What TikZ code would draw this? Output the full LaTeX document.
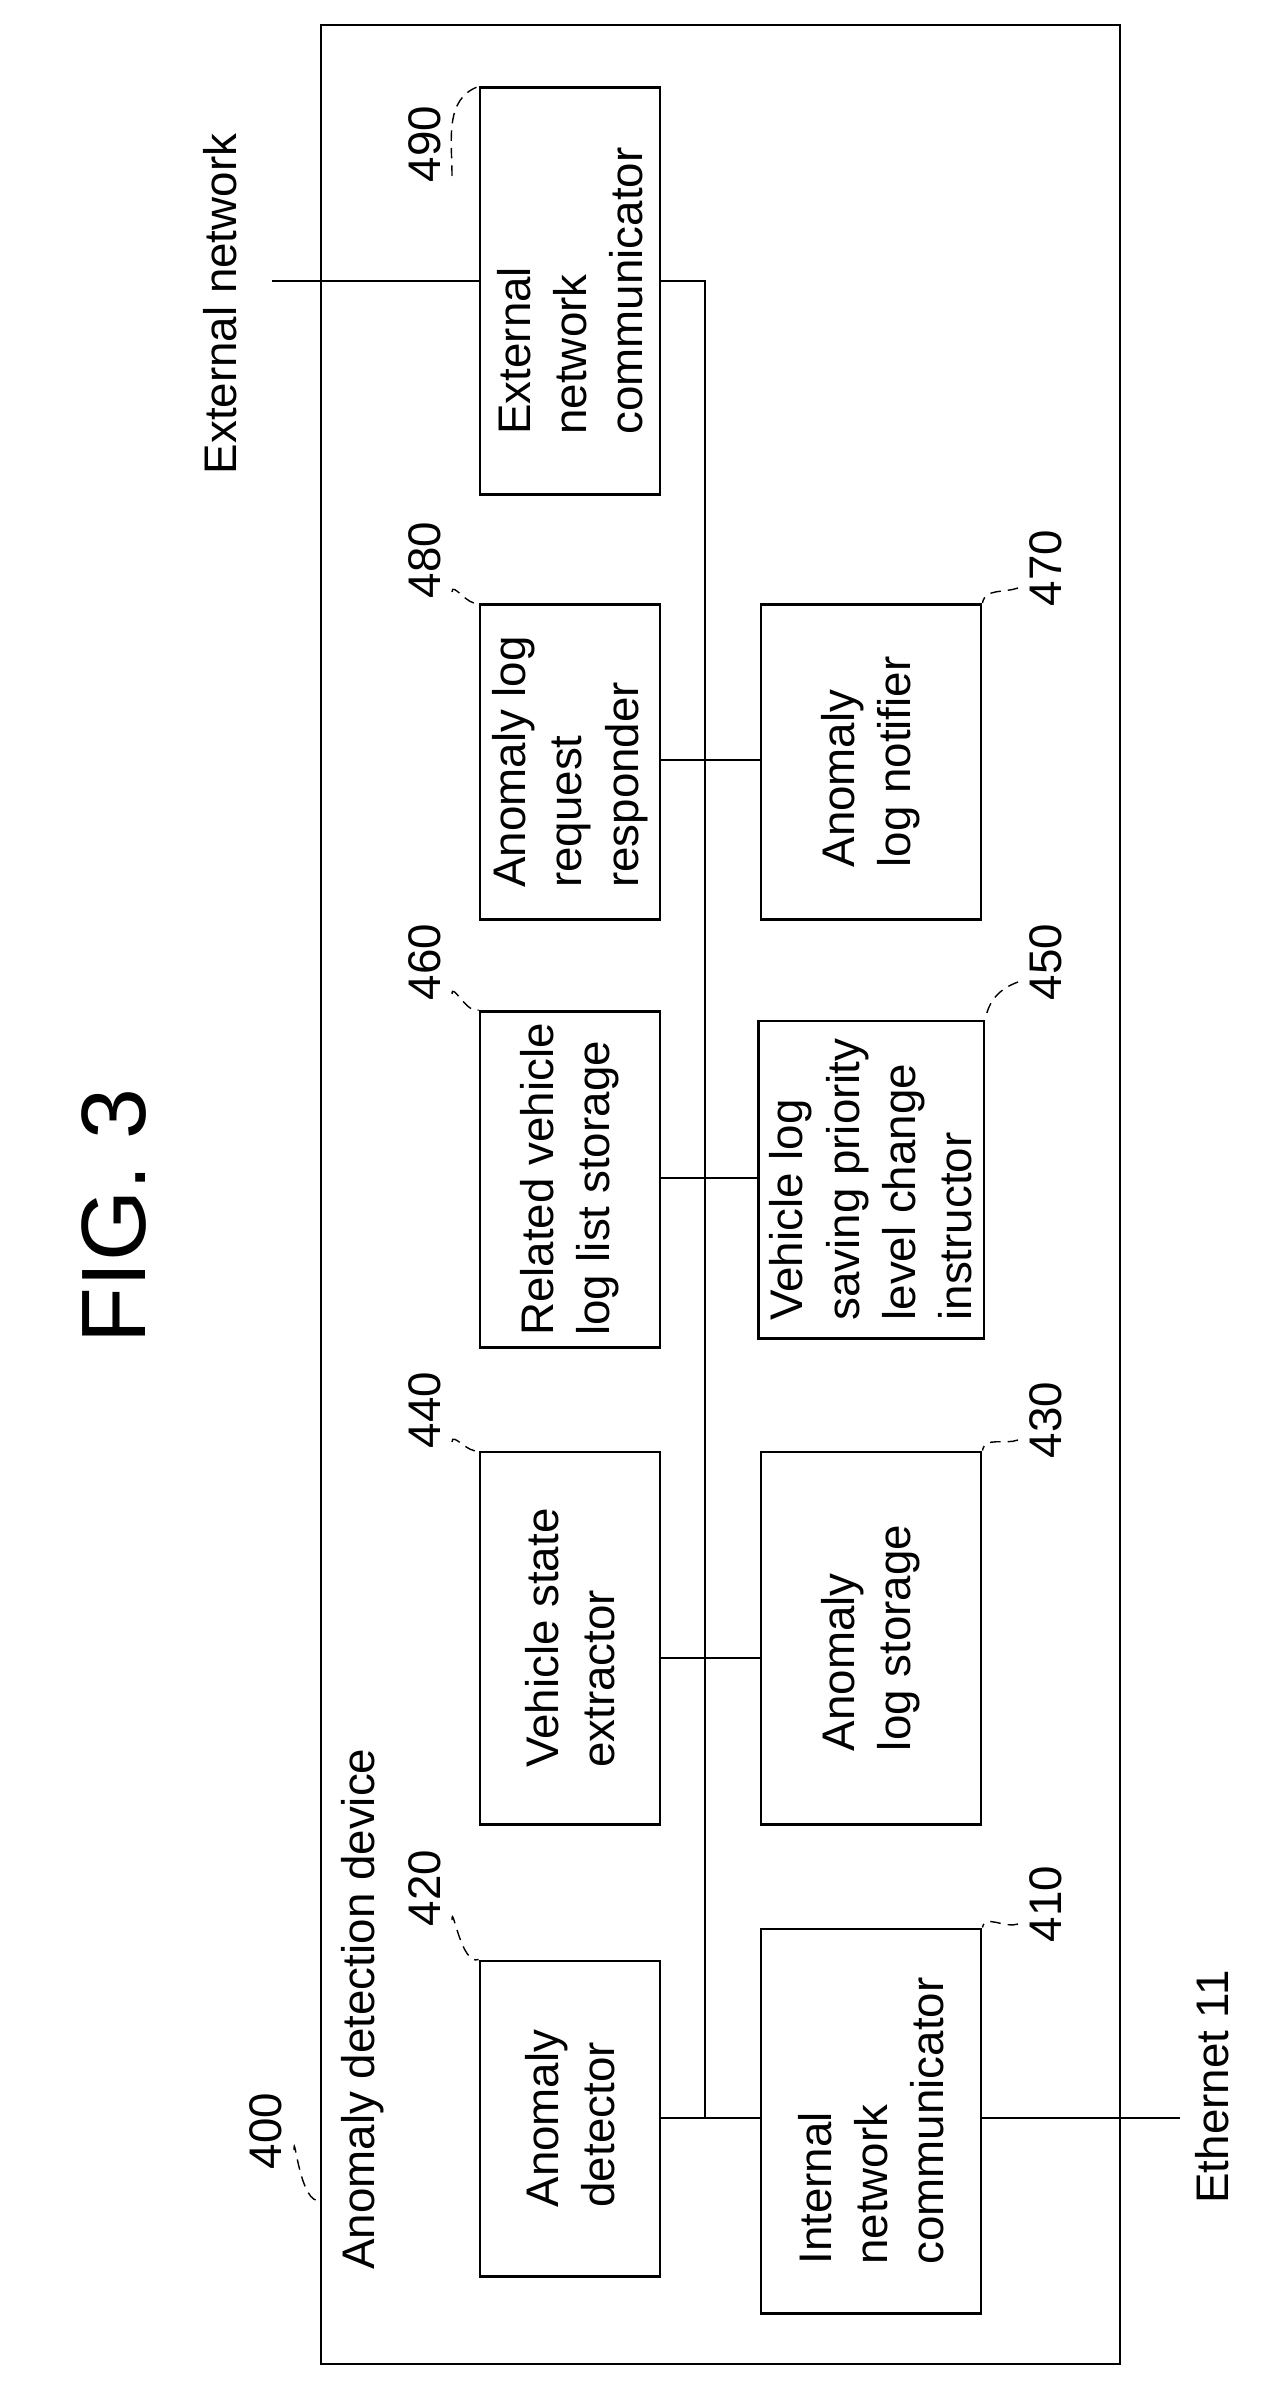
\documentclass[tikz,border=0pt]{standalone}
\usepackage{fontspec}
\setmainfont{Liberation Sans}
\usetikzlibrary{positioning}

\begin{document}
\begin{tikzpicture}[x=0.01cm, y=-0.01cm]
    \tikzstyle{block} = [rectangle, draw=black, thick, rotate=90, align=left, minimum height=1.8cm, font=\fontsize{13}{16}\selectfont]
    \tikzstyle{label} = [rotate=90, font=\fontsize{13}{15}\selectfont]
    \tikzstyle{lead} = [densely dashed, thin]
    \tikzstyle{bus} = [thick]
    \useasboundingbox (0,0) rectangle (1262,2397);

    \node (fig) [rotate=90, font=\fontsize{26}{30}\selectfont] at (114,1216) {FIG. 3};
    \draw [thick] (321,25) rectangle (1120,2364);

    % upper row
    \node (b490) [block, minimum width=4.06cm] at (570,291) {External\\network\\communicator};
    \node (b480) [block, minimum width=3.15cm] at (570,762) {Anomaly log\\request\\responder};
    \node (b460) [block, minimum width=3.17cm] at (570,1179.5) {Related vehicle\\log list storage};
    \node (b440) [block, minimum width=3.72cm] at (570,1638) {Vehicle state\\extractor};
    \node (b420) [block, minimum width=3.15cm] at (570,2118.5) {Anomaly\\detector};
    % lower row
    \node (b470) [block, minimum height=2.2cm, minimum width=3.15cm] at (871,762) {Anomaly\\log notifier};
    \node (b450) [block, minimum height=2.2cm, minimum width=3.17cm] at (871,1179.5) {Vehicle log\\saving priority\\level change\\instructor};
    \node (b430) [block, minimum height=2.2cm, minimum width=3.72cm] at (871,1638) {Anomaly\\log storage};
    \node (b410) [block, minimum height=2.2cm, minimum width=3.84cm] at (871,2121) {Internal\\network\\communicator};

    % outside texts
    \node (extnet) [label] at (220,304) {External network};
    \node (eth) [label] at (1212,2087) {Ethernet 11};
    \node (dev) [label] at (363,2009) {Anomaly detection device};

    % bus
    \coordinate (jtop) at (705,281);
    \coordinate (j480) at (705,760);
    \coordinate (j460) at (705,1178);
    \coordinate (j440) at (705,1658);
    \coordinate (j420) at (705,2118);
    \coordinate (extend) at (272,281);
    \coordinate (ethend) at (1180,2118);
    \draw [bus] (extend) -- (b490.north |- extend);
    \draw [bus] (b490.south |- jtop) -- (jtop) -- (j420);
    \draw [bus] (j480 -| b480.south) -- (j480 -| b470.north);
    \draw [bus] (j460 -| b460.south) -- (j460 -| b450.north);
    \draw [bus] (j440 -| b440.south) -- (j440 -| b430.north);
    \draw [bus] (j420 -| b420.south) -- (j420 -| b410.north);
    \draw [bus] (j420 -| b410.south) -- (ethend);

    % reference numbers
    \node (n400) [label] at (266,2131) {400};
    \draw [lead] (294,2150) to[out=90,in=200] (321,2200);
    \foreach \name/\num/\y in {b490/490/144, b480/480/560, b460/460/962, b440/440/1410, b420/420/1888} {
        \node (n\num) [label] at (425,\y) {\num};
        \draw [lead] (452,\y+32) to[out=90,in=200] (\name.north east);
    }
    \foreach \name/\num/\y in {b470/470/568, b450/450/962, b430/430/1420, b410/410/1904} {
        \node (n\num) [label] at (1046,\y) {\num};
        \draw [lead] (1018,\y+20) to[out=200,in=80] (\name.south east);
    }
\end{tikzpicture}
\end{document}
